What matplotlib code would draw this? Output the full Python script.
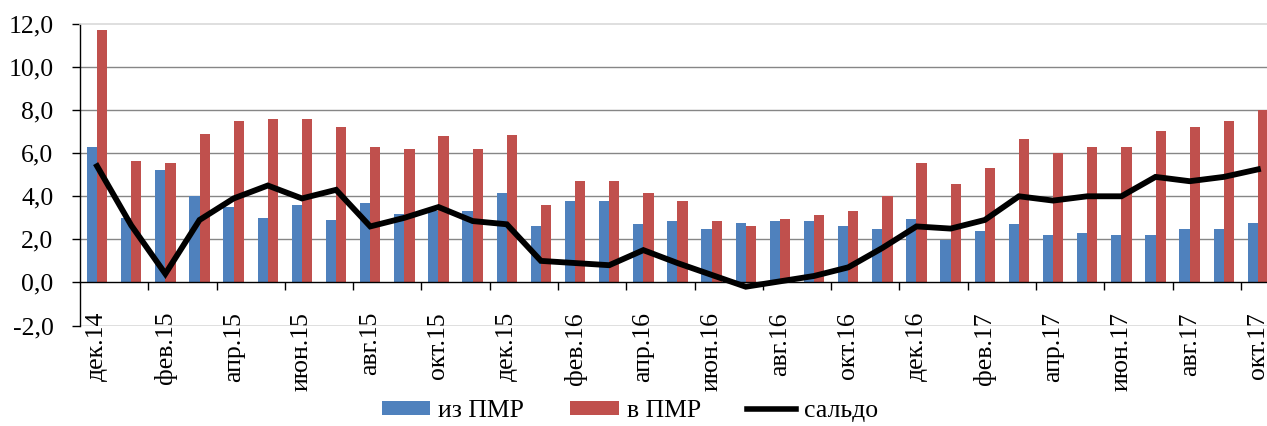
import matplotlib
matplotlib.use("Agg")
import matplotlib.pyplot as plt
from matplotlib.patches import Patch
from matplotlib.lines import Line2D
from matplotlib.transforms import blended_transform_factory

plt.rcParams['font.family'] = ['Liberation Serif', 'DejaVu Serif']
plt.rcParams['font.size'] = 18.5

months = ['дек.14', 'янв.15', 'фев.15', 'мар.15', 'апр.15', 'май.15', 'июн.15',
          'июл.15', 'авг.15', 'сен.15', 'окт.15', 'ноя.15', 'дек.15', 'янв.16',
          'фев.16', 'мар.16', 'апр.16', 'май.16', 'июн.16', 'июл.16', 'авг.16',
          'сен.16', 'окт.16', 'ноя.16', 'дек.16', 'янв.17', 'фев.17', 'мар.17',
          'апр.17', 'май.17', 'июн.17', 'июл.17', 'авг.17', 'сен.17', 'окт.17']

iz_pmr = [6.3, 3.0, 5.2, 4.0, 3.5, 3.0, 3.6, 2.9, 3.7, 3.2, 3.3, 3.3, 4.15, 2.6,
          3.8, 3.8, 2.7, 2.85, 2.5, 2.75, 2.85, 2.85, 2.6, 2.5, 2.95, 1.95, 2.4,
          2.7, 2.2, 2.3, 2.2, 2.2, 2.5, 2.5, 2.75]

v_pmr = [11.7, 5.65, 5.55, 6.9, 7.5, 7.6, 7.6, 7.2, 6.3, 6.2, 6.8, 6.2, 6.85, 3.6,
         4.7, 4.7, 4.15, 3.8, 2.85, 2.6, 2.95, 3.15, 3.3, 4.0, 5.55, 4.55, 5.3,
         6.65, 6.0, 6.3, 6.3, 7.05, 7.2, 7.5, 8.0]

saldo = [5.4, 2.65, 0.4, 2.9, 3.9, 4.5, 3.9, 4.3, 2.6, 3.0, 3.5, 2.85, 2.7, 1.0,
         0.9, 0.8, 1.5, 0.9, 0.35, -0.2, 0.05, 0.3, 0.7, 1.6, 2.6, 2.5, 2.9, 4.0,
         3.8, 4.0, 4.0, 4.9, 4.7, 4.9, 5.25]

yticks = [-2, 0, 2, 4, 6, 8, 10, 12]

BLUE = '#4F81BD'
RED = '#C0504D'
GRID = '#868686'
BORDER = '#D9D9D9'

W, H = 1267, 426
fig = plt.figure(figsize=(W / 100, H / 100), dpi=100)
left_px, right_px, top_px, bot_px = 80, 1275, 24, 325.5
ax = fig.add_axes([left_px / W, (H - bot_px) / H, (right_px - left_px) / W, (bot_px - top_px) / H])

n = len(months)
x = list(range(n))
bw = 0.3
ax.bar([i - bw / 2 for i in x], iz_pmr, width=bw, color=BLUE, zorder=2)
ax.bar([i + bw / 2 for i in x], v_pmr, width=bw, color=RED, zorder=2)
ax.plot(x, saldo, color='black', lw=4.2, zorder=4, solid_joinstyle='miter')

ax.set_xlim(-0.5, n - 0.5)
ax.set_ylim(-2, 12)

# gridlines
for yv in yticks:
    if yv in (2, 4, 6, 8, 10):
        ax.axhline(yv, color=GRID, lw=1.0, zorder=1)
ax.axhline(-2, color=BORDER, lw=1.2, zorder=1)

# spines
ax.spines['right'].set_visible(False)
ax.spines['top'].set_color(BORDER)
ax.spines['top'].set_linewidth(1.2)
ax.spines['left'].set_color('black')
ax.spines['left'].set_linewidth(1.0)
ax.spines['bottom'].set_position(('data', 0))
ax.spines['bottom'].set_color('black')
ax.spines['bottom'].set_linewidth(1.0)
ax.spines['bottom'].set_zorder(3)

ax.set_yticks(yticks)
ax.set_yticklabels([f'{v:.1f}'.replace('.', ',') for v in yticks])
ax.tick_params(axis='y', direction='out', length=6, width=1.0, pad=13, colors='black')

ax.set_xticks([i + 0.5 for i in range(1, n - 1, 2)])
ax.set_xticklabels([])
ax.tick_params(axis='x', direction='out', length=6, width=1.0)

trans = blended_transform_factory(ax.transData, ax.transAxes)
label_top = (bot_px - 312) / (bot_px - top_px)
for i in range(0, n, 2):
    ax.text(i, label_top, months[i], rotation=90, ha='center', va='top',
            transform=trans, fontsize=18.5)

handles = [Patch(facecolor=BLUE, edgecolor='none'),
           Patch(facecolor=RED, edgecolor='none'),
           Line2D([0], [0], color='black', lw=4)]
fig.legend(handles, ['из ПМР', 'в ПМР', 'сальдо'], loc='center',
           bbox_to_anchor=(0.497, 0.035), ncol=3, frameon=False,
           handlelength=1.9, handleheight=0.5, handletextpad=0.3,
           columnspacing=1.8, fontsize=18.5, borderaxespad=0)

fig.savefig('out.png', dpi=100)
